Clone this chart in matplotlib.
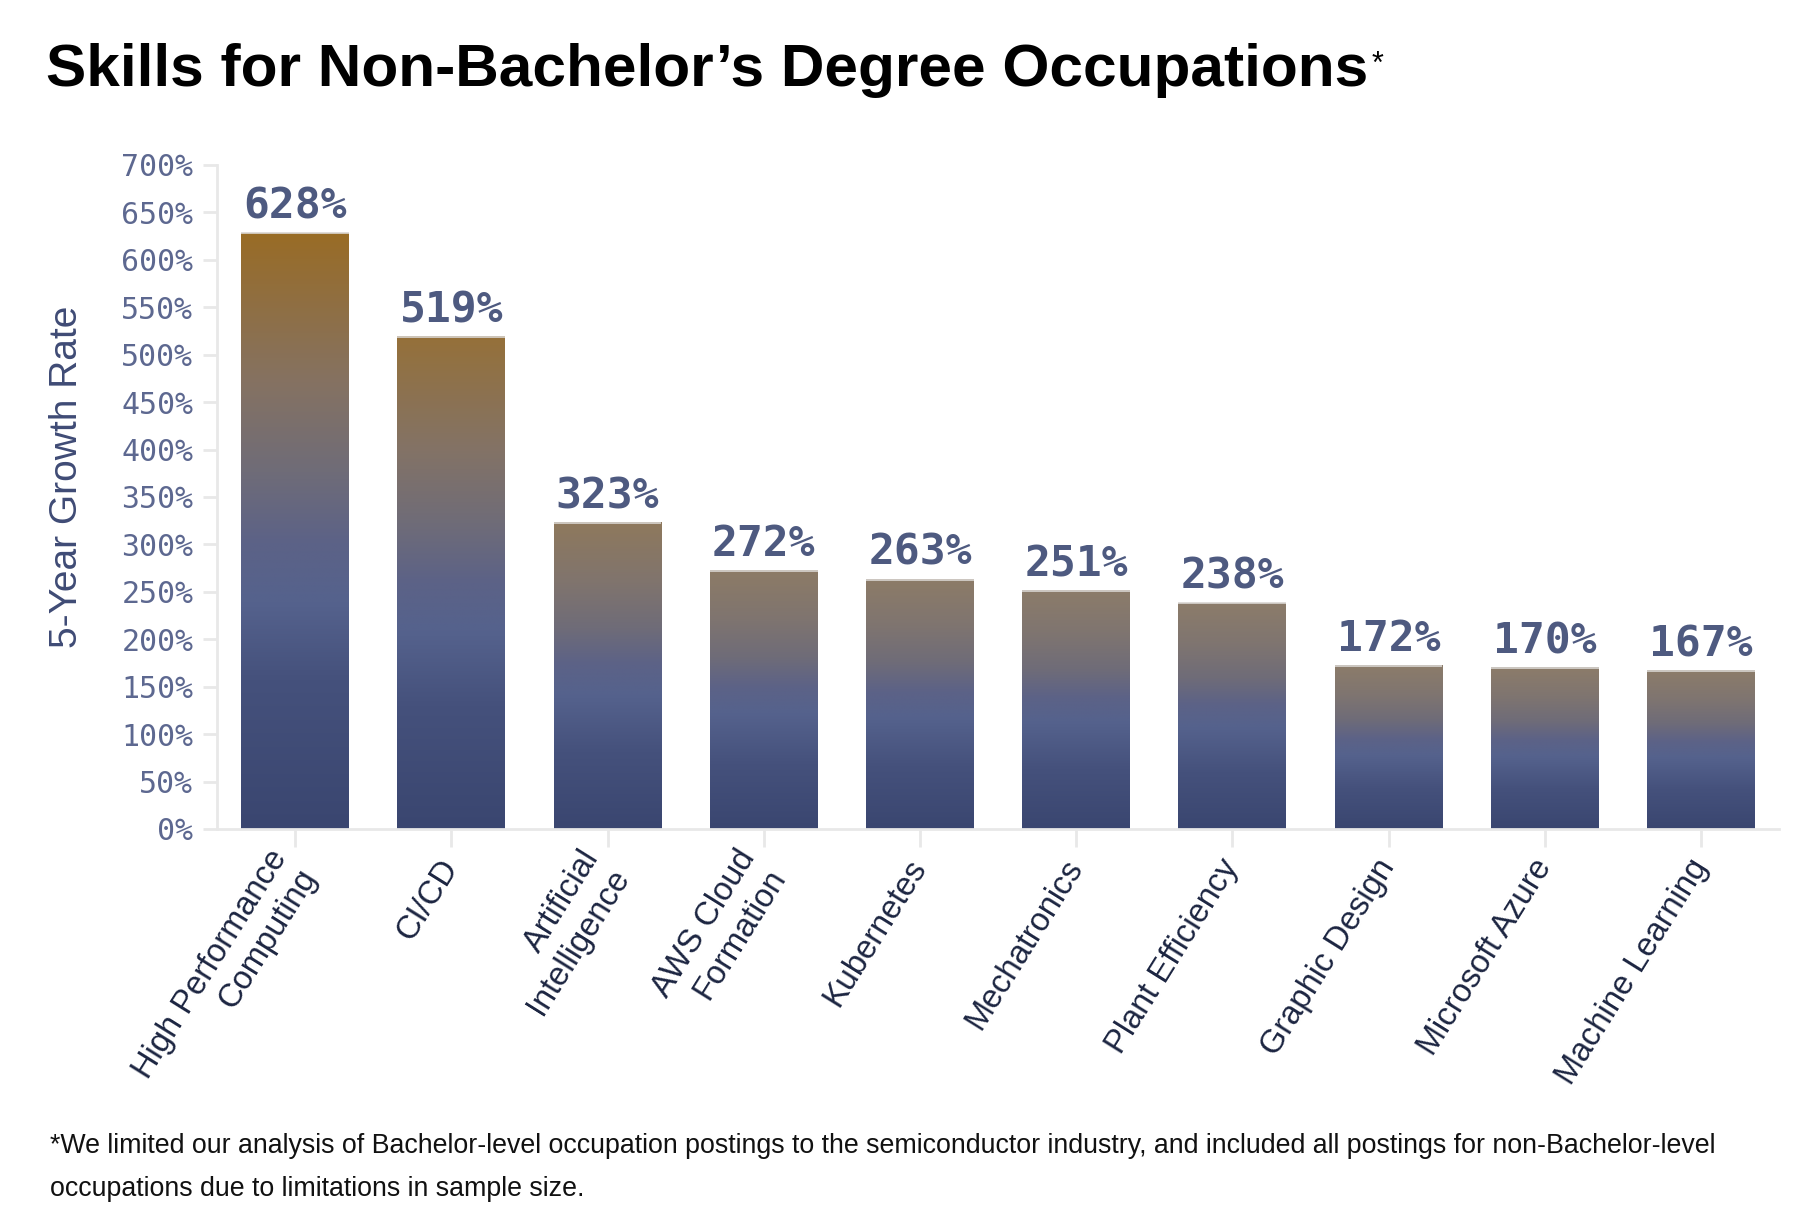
import matplotlib
matplotlib.use("Agg")
import matplotlib.pyplot as plt
import numpy as np
from matplotlib.colors import to_rgb

# ---------------- data ----------------
skills = ["High Performance\nComputing", "CI/CD", "Artificial\nIntelligence",
          "AWS Cloud\nFormation", "Kubernetes", "Mechatronics", "Plant Efficiency",
          "Graphic Design", "Microsoft Azure", "Machine Learning"]
growth = [628, 519, 323, 272, 263, 251, 238, 172, 170, 167]
ytick_vals = list(range(0, 701, 50))
ytick_labels = [f"{v}%" for v in ytick_vals]
title = "Skills for Non-Bachelor\u2019s Degree Occupations"
ylabel = "5-Year Growth Rate"
footnote_lines = ["*We limited our analysis of Bachelor-level occupation postings to the semiconductor industry, "
                  "and included all postings for non-Bachelor-level",
                  "occupations due to limitations in sample size."]

W, H = 1800, 1231
fig = plt.figure(figsize=(W / 100, H / 100), dpi=100)
fig.patch.set_facecolor("white")

left, right, top, bottom = 217, 1779, 165, 829
ax = fig.add_axes([left / W, 1 - bottom / H, (right - left) / W, (bottom - top) / H])

sans = ["Liberation Sans", "DejaVu Sans"]
mono = ["DejaVu Sans Mono"]

x = np.arange(len(skills))
bw = 0.69

navy_bot = np.array(to_rgb("#3a4670"))
navy_mid = np.array(to_rgb("#55628d"))
grey_mid = np.array(to_rgb("#6f6c78"))
tan = np.array(to_rgb("#8c7c6a"))
gold = np.array(to_rgb("#996c26"))
gold_low = np.array(to_rgb("#857262"))

def bar_gradient(v):
    f = float(np.clip((v - 250) / (628 - 250), 0, 1))
    topc = tan * (1 - f) + gold * f
    upper = tan * 0.55 + grey_mid * 0.45
    upper = upper * (1 - f) + gold_low * f
    knee = 0.55 - 0.07 * f
    stops = [(0.0, navy_bot), (0.25, np.array(to_rgb("#45517c"))), (knee - 0.1, navy_mid),
             (knee, np.array(to_rgb("#5c6287"))), (knee + 0.12, grey_mid),
             (knee + 0.27, upper), (1.0, topc)]
    n = 256
    t = np.linspace(0, 1, n)
    img = np.zeros((n, 1, 3))
    ts = [s[0] for s in stops]
    for c in range(3):
        img[:, 0, c] = np.interp(t, ts, [s[1][c] for s in stops])
    return img[::-1]

# bars through the library, then gradient images filling them
bars = ax.bar(x, growth, width=bw, color="none", edgecolor="none", zorder=3)
for rect, v in zip(bars, growth):
    x0 = rect.get_x()
    ax.imshow(bar_gradient(v), extent=[x0, x0 + rect.get_width(), 0, rect.get_height()],
              aspect="auto", zorder=2, interpolation="bilinear")
    ax.plot([x0, x0 + rect.get_width()], [rect.get_height()] * 2, color="#d9d6d2",
            lw=1.2, zorder=4, solid_capstyle="butt")
    ax.annotate(f"{v}%", (rect.get_x() + rect.get_width() / 2, rect.get_height()),
                xytext=(0, 4), textcoords="offset points", ha="center", va="bottom",
                fontsize=31, fontweight="bold", color="#4e5a80", family=mono, zorder=5)

ax.set_xlim(-0.5, 9.5)
ax.set_ylim(0, 700)
ax.set_yticks(ytick_vals)
ax.set_yticklabels(ytick_labels, family=mono, fontsize=21.5, color="#5d6890")
ax.set_xticks(x)
ax.set_xticklabels(skills, rotation=58, ha="right", va="center", rotation_mode="anchor",
                   multialignment="right", fontsize=23.5, color="#1c2541", family=sans)
ax.tick_params(axis="y", length=10, width=2, color="#e8e8e8", pad=7)
ax.tick_params(axis="x", length=13, width=2, color="#e8e8e8", pad=11)
for s in ["top", "right"]:
    ax.spines[s].set_visible(False)
for s in ["left", "bottom"]:
    ax.spines[s].set_color("#e8e8e8")
    ax.spines[s].set_linewidth(2)
ax.set_facecolor("white")

fig.text(67 / W, 1 - 477 / H, ylabel, rotation=90, ha="center", va="center",
         fontsize=28, color="#3f4b75", family=sans)

t = fig.text(46 / W, 1 - 71 / H, title, ha="left", va="center", fontsize=43.5,
             fontweight="bold", color="#000000", family=sans)
fig.canvas.draw()
bb = t.get_window_extent()
fig.text((bb.x1 + 3) / W, (bb.y1 - 6) / H, "*", ha="left", va="top", fontsize=22,
         color="#000000", family=sans)

for i, line in enumerate(footnote_lines):
    fig.text(50 / W, 1 - (1146 + 43 * i) / H, line, ha="left", va="center", fontsize=19.3,
             color="#111111", family=sans)

fig.savefig("out.png", dpi=100, facecolor="white")
